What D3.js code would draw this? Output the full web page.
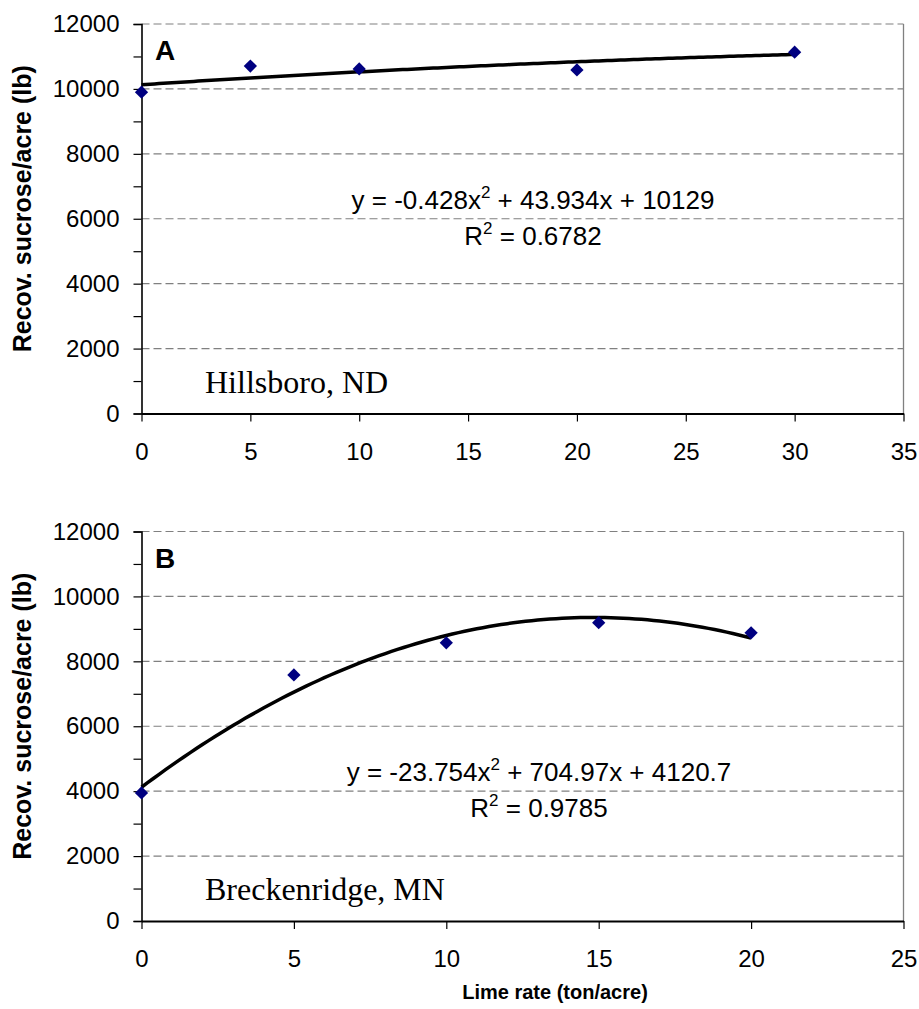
<!DOCTYPE html>
<html>
<head>
<meta charset="utf-8">
<script src="https://cdn.jsdelivr.net/npm/d3@7"></script>
<style>
  html, body { margin: 0; padding: 0; background: #fff; }
  svg { display: block; }
</style>
</head>
<body>
<div id="chart"></div>
<script>
/* =========================
   DATA
   ========================= */

const ratesA = [0, 5, 10, 20, 30];
const sucroseA = [9900, 10705, 10615, 10585, 11130];
const coefA = [-0.428, 43.934, 10129];   // a, b, c  (y = ax² + bx + c)
const eqA = ["y = -0.428x", "2", " + 43.934x + 10129"];
const r2A = "0.6782";

const ratesB = [0, 5, 10, 15, 20];
const sucroseB = [3945, 7580, 8570, 9190, 8880];
const coefB = [-23.754, 704.97, 4120.7];
const eqB = ["y = -23.754x", "2", " + 704.97x + 4120.7"];
const r2B = "0.9785";

const yTicks = [0, 2000, 4000, 6000, 8000, 10000, 12000];
const yMinorTicks = d3.range(0, 12001, 1000);
const xTicksA = [0, 5, 10, 15, 20, 25, 30, 35];
const xTicksB = [0, 5, 10, 15, 20, 25];

/* =========================
   CONFIG
   ========================= */

const WIDTH = 919;
const HEIGHT = 1009;
const LEFT = 141.5;
const RIGHT = 903.5;
const FONT = "Liberation Sans, Arial, sans-serif";
const SERIF = "Liberation Serif, Times New Roman, serif";

const svg = d3.select("#chart")
  .append("svg")
  .attr("width", WIDTH)
  .attr("height", HEIGHT);

function drawPanel(opt) {
  const x = d3.scaleLinear().domain([0, opt.xMax]).range([LEFT, RIGHT]);
  const y = d3.scaleLinear().domain([0, 12000]).range([opt.bottom, opt.top]);

  const g = svg.append("g");

  // gridlines
  g.selectAll(".grid")
    .data(yTicks.filter(d => d > 0))
    .enter()
    .append("line")
    .attr("x1", LEFT).attr("x2", RIGHT)
    .attr("y1", d => y(d)).attr("y2", d => y(d))
    .attr("stroke", "#808080")
    .attr("stroke-width", 1.2)
    .attr("stroke-dasharray", "8 4");

  // right border
  g.append("line")
    .attr("x1", RIGHT).attr("x2", RIGHT)
    .attr("y1", y(12000)).attr("y2", y(0))
    .attr("stroke", "#808080")
    .attr("stroke-width", 1.3);

  // y axis (labels every 2000, ticks every 1000)
  const yAxis = g.append("g")
    .attr("transform", `translate(${LEFT},0)`)
    .call(d3.axisLeft(y).tickValues(yMinorTicks).tickSize(8).tickFormat(d => yTicks.includes(d) ? String(d) : ""))
    .attr("font-size", 24)
    .attr("font-family", FONT);
  yAxis.select(".domain").attr("stroke-width", 1.6);
  yAxis.selectAll(".tick line").attr("stroke-width", 1.2);
  yAxis.selectAll(".tick text")
    .attr("x", -22)
    .attr("fill", "#000");

  // x axis
  const xAxis = g.append("g")
    .attr("transform", `translate(0,${opt.bottom})`)
    .call(d3.axisBottom(x).tickValues(opt.xTicks).tickSize(8).tickSizeOuter(0))
    .attr("font-size", 24)
    .attr("font-family", FONT);
  xAxis.select(".domain").attr("stroke-width", 2.2);
  xAxis.selectAll(".tick line").attr("stroke-width", 1.2);
  xAxis.selectAll(".tick text")
    .attr("y", 29)
    .attr("fill", "#000");

  // trendline
  const a = opt.coef[0], b = opt.coef[1], c = opt.coef[2];
  const lastX = d3.max(opt.rates);
  const trend = d3.range(0, lastX + 0.001, 0.2).map(v => [v, a * v * v + b * v + c]);
  g.append("path")
    .datum(trend)
    .attr("d", d3.line().x(d => x(d[0])).y(d => y(d[1])))
    .attr("fill", "none")
    .attr("stroke", "#000")
    .attr("stroke-width", 3.5);

  // points (diamonds)
  const diamond = d3.symbol().type(d3.symbolSquare).size(88);
  g.selectAll(".pt")
    .data(opt.rates.map((r, i) => [r, opt.values[i]]))
    .enter()
    .append("path")
    .attr("d", diamond)
    .attr("transform", d => `translate(${x(d[0])},${y(d[1])}) rotate(45)`)
    .attr("fill", "#000080");

  // panel letter
  g.append("text")
    .attr("x", 155).attr("y", opt.top + 36)
    .attr("font-family", FONT)
    .attr("font-size", 28)
    .attr("font-weight", "bold")
    .text(opt.letter);

  // site label
  g.append("text")
    .attr("x", 205).attr("y", opt.bottom - 21)
    .attr("font-family", SERIF)
    .attr("font-size", 32)
    .text(opt.site);

  // equation
  const eq = g.append("text")
    .attr("x", opt.eqX).attr("y", opt.eqY)
    .attr("text-anchor", "middle")
    .attr("font-family", FONT)
    .attr("font-size", 26);
  eq.append("tspan").text(opt.eq[0]);
  eq.append("tspan").attr("dy", -11).attr("font-size", 17).text(opt.eq[1]);
  eq.append("tspan").attr("dy", 11).text(opt.eq[2]);

  const r2 = g.append("text")
    .attr("x", opt.eqX).attr("y", opt.eqY + 36)
    .attr("text-anchor", "middle")
    .attr("font-family", FONT)
    .attr("font-size", 26);
  r2.append("tspan").text("R");
  r2.append("tspan").attr("dy", -11).attr("font-size", 17).text("2");
  r2.append("tspan").attr("dy", 11).text(" = " + opt.r2);

  // y title
  g.append("text")
    .attr("transform", `translate(31,${(opt.top + opt.bottom) / 2 - 10}) rotate(-90)`)
    .attr("text-anchor", "middle")
    .attr("font-family", FONT)
    .attr("font-size", 25)
    .attr("font-weight", "bold")
    .text("Recov. sucrose/acre (lb)");
}

drawPanel({
  top: 24, bottom: 413.5, xMax: 35, xTicks: xTicksA,
  rates: ratesA, values: sucroseA, coef: coefA,
  letter: "A", site: "Hillsboro, ND",
  eq: eqA, r2: r2A, eqX: 533, eqY: 209
});

drawPanel({
  top: 531.5, bottom: 921, xMax: 25, xTicks: xTicksB,
  rates: ratesB, values: sucroseB, coef: coefB,
  letter: "B", site: "Breckenridge, MN",
  eq: eqB, r2: r2B, eqX: 539, eqY: 781
});

// x title
svg.append("text")
  .attr("x", 555).attr("y", 999)
  .attr("text-anchor", "middle")
  .attr("font-family", FONT)
  .attr("font-size", 20)
  .attr("font-weight", "bold")
  .text("Lime rate (ton/acre)");
</script>
</body>
</html>
